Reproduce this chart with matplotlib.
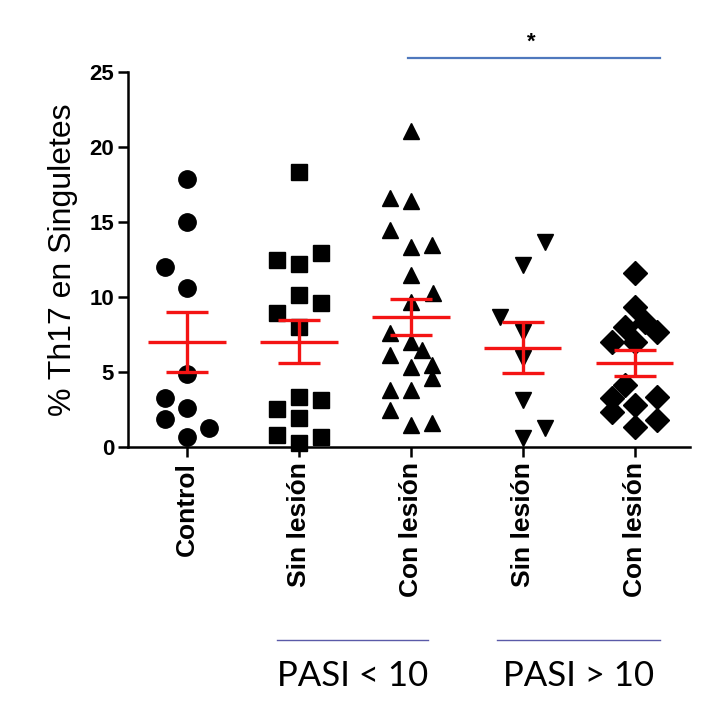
import numpy as np
import matplotlib.pyplot as plt

# data (% Th17 en Singuletes)
categories = ['Control', 'Sin lesión', 'Con lesión', 'Sin lesión', 'Con lesión']
group_labels = ['PASI < 10', 'PASI > 10']

control = [17.9, 15.0, 12.0, 10.6, 4.9, 3.3, 2.6, 1.9, 1.25, 0.7]
sin_lesion_low = [18.35, 12.47, 12.18, 12.95, 10.13, 9.62, 8.91, 8.02,
                  3.36, 3.13, 2.51, 1.91, 0.8, 0.64, 0.29]
con_lesion_low = [21.1, 16.6, 16.4, 14.5, 13.35, 13.47, 11.47, 10.24, 9.69,
                  7.58, 7.02, 6.47, 6.13, 5.35, 5.47, 4.58, 3.8, 3.8, 2.47,
                  1.47, 1.58]
sin_lesion_high = [13.7, 12.13, 8.69, 7.69, 5.91, 3.13, 1.24, 0.58]
con_lesion_high = [11.62, 9.36, 8.36, 7.69, 8.02, 7.02, 7.02, 4.13, 3.24,
                   3.35, 2.8, 2.35, 1.8, 1.35]

# horizontal scatter offsets of each point within its column
control_dx = [0, 0, -0.2, 0, 0, -0.2, 0, -0.2, 0.2, 0]
sin_low_dx = [0, -0.2, 0, 0.2, 0, 0.2, -0.2, 0, 0, 0.2, -0.2, 0, -0.2, 0.2, 0]
con_low_dx = [0, -0.19, 0, -0.19, 0, 0.19, 0, 0.2, 0, -0.19, 0, 0.1, -0.19,
              0, 0.19, 0.19, -0.19, 0, -0.19, 0, 0.19]
sin_high_dx = [0.2, 0, -0.2, 0, 0, 0, 0.2, 0]
con_high_dx = [0, 0, 0.09, 0.2, -0.09, -0.2, 0, -0.09, -0.2, 0.2, 0, -0.2, 0.2, 0]

groups = [control, sin_lesion_low, con_lesion_low, sin_lesion_high, con_lesion_high]
offsets = [control_dx, sin_low_dx, con_low_dx, sin_high_dx, con_high_dx]
markers = [('o', 12.5), ('s', 11), ('^', 12), ('v', 11), ('D', 12.5)]

plt.rcParams['font.family'] = 'Liberation Sans'

fig = plt.figure(figsize=(7.11, 7.21), dpi=100)
ax = fig.add_axes([0.180, 0.380, 0.790, 0.520])

for i, (vals, dx, (m, ms)) in enumerate(zip(groups, offsets, markers)):
    pos = i + 1
    ax.plot(pos + np.array(dx), vals, linestyle='none', marker=m, ms=ms,
            color='black', clip_on=False, zorder=2)
    v = np.array(vals)
    mean = v.mean()
    sem = v.std(ddof=1) / np.sqrt(len(v))
    ax.errorbar(pos, mean, yerr=sem, fmt='none', ecolor='#f41414',
                elinewidth=2.4, capsize=15, capthick=2.4, zorder=3)
    ax.hlines(mean, pos - 0.345, pos + 0.345, color='#f41414', lw=2.4, zorder=3)

ax.set_xlim(0.473, 5.49)
ax.set_ylim(0, 25)
ax.set_yticks([0, 5, 10, 15, 20, 25])
ax.set_xticks(range(1, 6))
ax.set_xticklabels(categories, rotation=90, fontsize=19, fontweight='bold')
for lab in ax.get_yticklabels():
    lab.set_fontweight('bold')
    lab.set_fontsize(16)
ax.tick_params(axis='both', length=7, width=1.8, color='black')
ax.tick_params(axis='x', pad=4)
ax.tick_params(axis='y', pad=3)
ax.spines['top'].set_visible(False)
ax.spines['right'].set_visible(False)
ax.spines['left'].set_linewidth(1.8)
ax.spines['bottom'].set_linewidth(1.8)
ax.set_ylabel('% Th17 en Singuletes', fontsize=23, labelpad=8)

# significance bar on top
fig.add_artist(plt.Line2D([408 / 711, 660 / 711], [1 - 58 / 721, 1 - 58 / 721],
                          color='#4f78bd', lw=1.6))
fig.text(531 / 711, 1 - 42 / 721, '*', ha='center', va='center',
         fontsize=16, fontweight='bold')

# PASI group lines and labels
for (x0, x1), lab in zip([(277, 428), (497, 660)], group_labels):
    fig.add_artist(plt.Line2D([x0 / 711, x1 / 711], [1 - 640 / 721, 1 - 640 / 721],
                              color='#5a5aa8', lw=1.0))
    fig.text((x0 + x1) / 2 / 711, 1 - 676 / 721, lab, ha='center', va='center',
             fontsize=25, family='Lato')

plt.savefig('out.png', dpi=100, facecolor='white')
